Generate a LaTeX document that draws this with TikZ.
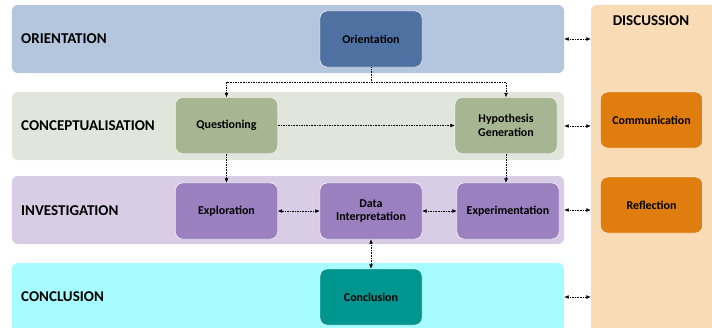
\documentclass[tikz,border=0pt]{standalone}
\usepackage{fontspec}
\setmainfont{Carlito}
\usetikzlibrary{arrows.meta,positioning}
\definecolor{orientband}{HTML}{B3C6DD}
\definecolor{orientbox}{HTML}{4E71A1}
\definecolor{conceptband}{HTML}{E2E5DC}
\definecolor{conceptbox}{HTML}{A6B592}
\definecolor{investband}{HTML}{D8CDE5}
\definecolor{investbox}{HTML}{9A80BF}
\definecolor{conclband}{HTML}{A6FCFE}
\definecolor{conclbox}{HTML}{00958F}
\definecolor{discband}{HTML}{F9DBB6}
\definecolor{discbox}{HTML}{DF7D0E}

\begin{document}
\begin{tikzpicture}[
    x=0.03cm, y=-0.03cm,
    band/.style={rounded corners=5pt, inner sep=0pt, minimum width=16.56cm, minimum height=2.04cm},
    box/.style={draw=white, rounded corners=6pt, align=center, inner sep=1pt, minimum width=3.06cm, minimum height=1.68cm, font=\fontsize{10.2}{11.5}\selectfont\bfseries},
    tag/.style={anchor=west, inner sep=0pt, font=\fontsize{12.8}{14}\selectfont\bfseries},
    line/.style={densely dotted, thin, >={Latex[length=1.3mm, width=1.1mm]}}
]
\useasboundingbox (0,0) rectangle (712,327);
\clip (0,0) rectangle (712,327);

\node[band, fill=discband, minimum width=3.9cm, minimum height=10.2cm] (dband) at (656,175) {};
\node[band, fill=orientband] (oband) at (288,39) {};
\node[band, fill=conceptband] (cband) at (288,126) {};
\node[band, fill=investband] (iband) at (288,210) {};
\node[band, fill=conclband] (lband) at (288,297) {};

\node[tag] (otag) at (21,39) {ORIENTATION};
\node[tag] (ctag) at (21,126) {CONCEPTUALISATION};
\node[tag] (itag) at (21,211) {INVESTIGATION};
\node[tag] (ltag) at (21,297) {CONCLUSION};
\node[tag, anchor=center] (dtag) at (651,21) {DISCUSSION};

\node[box, fill=orientbox] (orient) at (371,39) {Orientation};
\node[box, fill=conceptbox] (quest) at (226.5,125.5) {Questioning};
\node[box, fill=conceptbox] (hyp) at (506,125.5) {Hypothesis\\Generation};
\node[box, fill=investbox] (explor) at (226.5,211) {Exploration};
\node[box, fill=investbox] (interp) at (371,211) {Data\\Interpretation};
\node[box, fill=investbox] (exper) at (508,211) {Experimentation};
\node[box, fill=conclbox] (concl) at (371,297) {Conclusion};
\node[box, fill=discbox] (comm) at (651.5,120) {Communication};
\node[box, fill=discbox] (refl) at (651.5,205) {Reflection};

\draw[line, ->] (orient.south) -- ++(0,15) -| (quest.north);
\draw[line, ->] (orient.south) -- ++(0,15) -| (hyp.north);
\draw[line, ->] (quest) -- (hyp);
\draw[line, ->] (quest) -- (explor);
\draw[line, ->] (hyp.south) -- (hyp.south |- exper.north);
\draw[line, <->] (explor) -- (interp);
\draw[line, <->] (interp) -- (exper);
\draw[line, <->] (interp) -- (concl);
\draw[line, <->] (oband.east) -- (oband.east -| dband.west);
\draw[line, <->] (cband.east) -- (cband.east -| dband.west);
\draw[line, <->] (iband.east) -- (iband.east -| dband.west);
\draw[line, <->] (lband.east) -- (lband.east -| dband.west);
\end{tikzpicture}
\end{document}
